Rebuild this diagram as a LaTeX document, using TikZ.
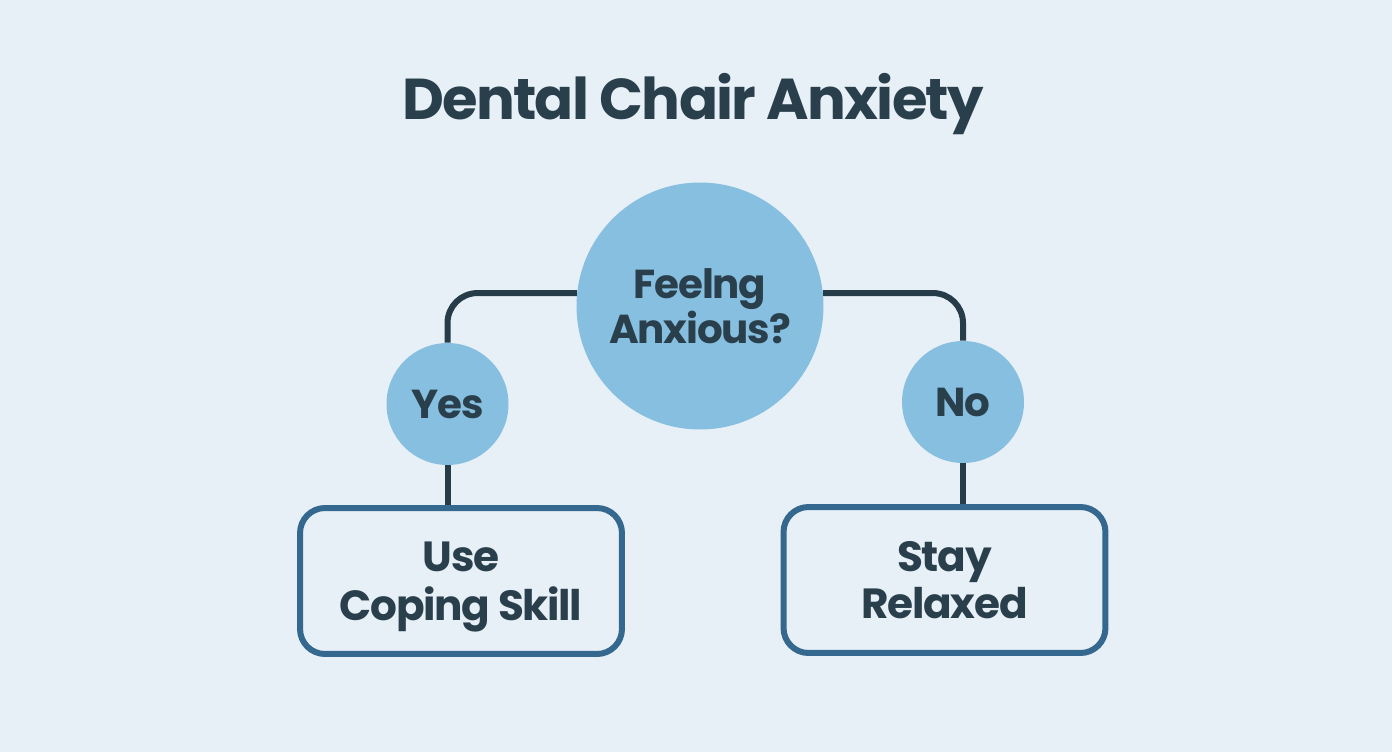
\documentclass[tikz,border=0pt]{standalone}
\usepackage{fontspec}
\setmainfont{Poppins}[BoldFont=* Bold, BoldFeatures={LetterSpace=-3}]
\usetikzlibrary{positioning}
\definecolor{pagebg}{HTML}{E8F0F7}
\definecolor{circlefill}{HTML}{87BFE0}
\definecolor{boxline}{HTML}{34688E}
\definecolor{linkline}{HTML}{263C48}
\definecolor{inktext}{HTML}{2A3F4C}
\tikzset{
  choice/.style={circle, fill=circlefill, draw=none, inner sep=0pt, align=center, text=inktext, font=\bfseries\fontsize{23}{25.6}\selectfont},
  outcome/.style={rectangle, rounded corners=.5cm, draw=boxline, line width=.12cm, fill=pagebg, minimum width=6.44cm, minimum height=2.92cm, inner sep=0pt, align=center, text=inktext, font=\bfseries\fontsize{24}{26.6}\selectfont},
  link/.style={draw=linkline, line width=.12cm, rounded corners=.6cm}
}
\begin{document}
\begin{tikzpicture}[x=0.02cm, y=0.02cm]
    \fill[pagebg] (0,0) rectangle (1392,752);
    \useasboundingbox (0,0) rectangle (1392,752);
    \node[text=inktext, font=\bfseries\fontsize{32.8}{36}\selectfont] (title) at (693,648) {Dental Chair Anxiety};
    \node[choice, minimum size=4.94cm] (feeling) at (700,446) {Feelng\\Anxious?};
    \node[choice, minimum size=2.44cm] (yes) at (447.5,348) {Yes};
    \node[choice, minimum size=2.44cm] (no) at (963,350) {No};
    \node[outcome, text height=1.56cm, text depth=0pt] (coping) at (461,171) {Use\\[.04cm]Coping Skill};
    \node[outcome] (relaxed) at (944.5,172) {Stay\\Relaxed};
    \draw[link] (feeling.174) -| (yes.north);
    \draw[link] (feeling.6) -| (no.north);
    \draw[link] (yes.south) -- (yes.south |- coping.north);
    \draw[link] (no.south) -- (no.south |- relaxed.north);
  \end{tikzpicture}
\end{document}
